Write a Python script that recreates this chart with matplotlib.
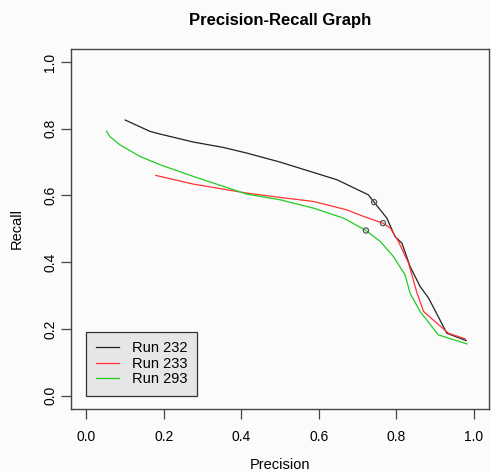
import matplotlib
matplotlib.use("Agg")
import matplotlib.pyplot as plt

plt.rcParams['font.family'] = ['Liberation Sans', 'DejaVu Sans']

# Run 232 (black)
p232 = [0.10, 0.164, 0.19, 0.276, 0.353, 0.414, 0.50, 0.647, 0.728, 0.743,
        0.776, 0.797, 0.815, 0.836, 0.862, 0.884, 0.931, 0.981]
r232 = [0.826, 0.792, 0.784, 0.760, 0.744, 0.727, 0.700, 0.647, 0.602, 0.580,
        0.532, 0.477, 0.457, 0.387, 0.327, 0.292, 0.187, 0.165]

# Run 233 (red)
p233 = [0.179, 0.276, 0.302, 0.414, 0.50, 0.586, 0.672, 0.716, 0.766,
        0.785, 0.806, 0.832, 0.854, 0.871, 0.935, 0.979]
r233 = [0.660, 0.634, 0.629, 0.607, 0.594, 0.582, 0.557, 0.537, 0.517,
        0.502, 0.462, 0.397, 0.307, 0.252, 0.187, 0.170]

# Run 293 (green)
p293 = [0.052, 0.060, 0.086, 0.138, 0.190, 0.276, 0.362, 0.414, 0.50, 0.586,
        0.664, 0.722, 0.759, 0.793, 0.823, 0.836, 0.862, 0.909, 0.983]
r293 = [0.792, 0.777, 0.752, 0.717, 0.692, 0.657, 0.624, 0.604, 0.587, 0.562,
        0.532, 0.495, 0.462, 0.417, 0.362, 0.307, 0.252, 0.182, 0.155]

# highlighted points
mark_p = [0.743, 0.766, 0.722]
mark_r = [0.580, 0.517, 0.495]

fig = plt.figure(figsize=(4.91, 4.72), dpi=100, facecolor='#fbfbfb')
ax = fig.add_axes([0.1446, 0.1335, 0.8514, 0.7635])
ax.set_facecolor('#fbfbfb')

ax.plot(p232, r232, color='#222222', lw=0.9, label='Run 232')
ax.plot(p233, r233, color='#ff3333', lw=0.9, label='Run 233')
ax.plot(p293, r293, color='#22cc22', lw=0.9, label='Run 293')
ax.scatter(mark_p, mark_r, s=14, facecolors='none', edgecolors='#555555', linewidths=0.9, zorder=3)

ax.set_xlim(-0.04, 1.04)
ax.set_ylim(-0.04, 1.04)
ticks = [0.0, 0.2, 0.4, 0.6, 0.8, 1.0]
ax.set_xticks(ticks)
ax.set_yticks(ticks)
ax.set_xticklabels([f'{t:.1f}' for t in ticks])
ax.set_yticklabels([f'{t:.1f}' for t in ticks], rotation=90, va='center')
ax.tick_params(direction='out', length=7, width=0.9, color='#444444', labelsize=10)
ax.tick_params(axis='x', pad=8)
ax.tick_params(axis='y', pad=3)

for s in ax.spines.values():
    s.set_color('#444444')
    s.set_linewidth(1.0)

ax.set_title('Precision-Recall Graph', fontsize=12, fontweight='bold', pad=17)
ax.set_xlabel('Precision', fontsize=10.5, labelpad=10)
ax.set_ylabel('Recall', fontsize=10.5, labelpad=14)

leg = ax.legend(loc='lower left', bbox_to_anchor=(0.037, 0.037), borderaxespad=0,
                fontsize=10.5, frameon=True, fancybox=False, handlelength=1.6,
                handletextpad=0.9, borderpad=0.65, labelspacing=0.1)
leg.get_frame().set_facecolor('#e6e6e6')
leg.get_frame().set_edgecolor('#333333')
leg.get_frame().set_linewidth(0.9)
leg.get_frame().set_alpha(1)

fig.savefig('out.png', dpi=100, facecolor=fig.get_facecolor())
